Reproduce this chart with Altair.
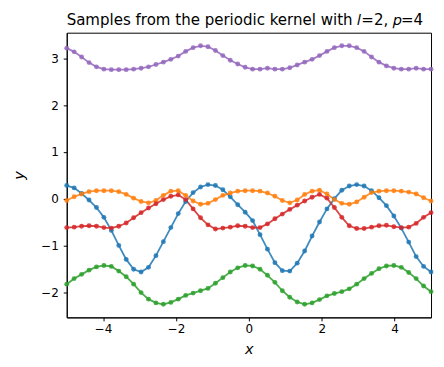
import altair as alt
import numpy as np
import pandas as pd

x_vals = np.linspace(-5, 5, 50)

blue = [0.28, 0.23, 0.11, -0.03, -0.19, -0.40, -0.68, -1.00, -1.30, -1.51,
        -1.57, -1.47, -1.22, -0.92, -0.62, -0.32, -0.06, 0.13, 0.25, 0.30,
        0.28, 0.19, 0.04, -0.13, -0.29, -0.47, -0.77, -1.08, -1.37, -1.54,
        -1.55, -1.38, -1.12, -0.80, -0.50, -0.22, 0.00, 0.18, 0.27, 0.30,
        0.27, 0.17, 0.02, -0.15, -0.37, -0.63, -0.93, -1.24, -1.45, -1.57]

orange = [-0.04, 0.04, 0.10, 0.15, 0.17, 0.17, 0.17, 0.15, 0.09, 0.01,
          -0.06, -0.09, -0.04, 0.07, 0.16, 0.17, 0.07, -0.05, -0.12, -0.10,
          -0.02, 0.07, 0.12, 0.16, 0.17, 0.17, 0.16, 0.12, 0.05, -0.04,
          -0.09, -0.03, 0.09, 0.16, 0.18, 0.10, -0.02, -0.10, -0.12, -0.07,
          0.03, 0.13, 0.16, 0.17, 0.17, 0.16, 0.14, 0.10, 0.02, -0.05]

green = [-1.83, -1.71, -1.62, -1.53, -1.46, -1.43, -1.45, -1.55, -1.67, -1.83,
         -2.01, -2.15, -2.23, -2.26, -2.22, -2.15, -2.07, -2.02, -1.97, -1.92,
         -1.81, -1.69, -1.57, -1.48, -1.43, -1.44, -1.51, -1.64, -1.79, -1.97,
         -2.11, -2.21, -2.26, -2.23, -2.16, -2.08, -2.03, -1.99, -1.93, -1.83,
         -1.71, -1.60, -1.50, -1.44, -1.43, -1.47, -1.58, -1.71, -1.87, -1.99]

red = [-0.62, -0.61, -0.59, -0.58, -0.59, -0.62, -0.63, -0.59, -0.52, -0.41,
       -0.30, -0.20, -0.11, -0.02, 0.05, 0.08, -0.02, -0.22, -0.41, -0.56,
       -0.65, -0.63, -0.61, -0.58, -0.59, -0.62, -0.62, -0.54, -0.43, -0.33,
       -0.23, -0.14, -0.05, 0.03, 0.09, 0.01, -0.19, -0.40, -0.58, -0.64,
       -0.64, -0.61, -0.58, -0.57, -0.60, -0.62, -0.61, -0.53, -0.40, -0.30]

purple = [3.22, 3.14, 3.03, 2.91, 2.82, 2.77, 2.76, 2.76, 2.76, 2.77,
          2.79, 2.82, 2.87, 2.92, 2.98, 3.05, 3.15, 3.23, 3.27, 3.25,
          3.17, 3.06, 2.96, 2.88, 2.81, 2.77, 2.77, 2.79, 2.77, 2.77,
          2.80, 2.86, 2.92, 2.98, 3.06, 3.15, 3.23, 3.27, 3.27, 3.23,
          3.15, 3.03, 2.92, 2.84, 2.79, 2.77, 2.77, 2.79, 2.77, 2.77]

series_names = ["s0", "s1", "s2", "s3", "s4"]
series_colors = ["#1f77b4", "#ff7f0e", "#2ca02c", "#d62728", "#9467bd"]
series_values = [blue, orange, green, red, purple]

x_ticks = [-4, -2, 0, 2, 4]
y_ticks = [-2, -1, 0, 1, 2, 3]

rows = []
for k, (name, vals) in enumerate(zip(series_names, series_values)):
    for xv, yv in zip(x_vals, vals):
        rows.append({"series": name, "order": k, "x": float(xv), "y": yv})
df = pd.DataFrame(rows)

minus = "replace(datum.label, '-', '\u2212')"

base = alt.Chart(df).encode(
    x=alt.X("x:Q",
            scale=alt.Scale(domain=[-5, 5], nice=False, zero=False),
            axis=alt.Axis(values=x_ticks, title="x", labelExpr=minus,
                          titleFontStyle="italic", titleFontWeight="normal",
                          titleFontSize=14.5, titlePadding=8, labelPadding=3)),
    y=alt.Y("y:Q",
            scale=alt.Scale(domain=[-2.54, 3.55], nice=False, zero=False),
            axis=alt.Axis(values=y_ticks, title="y", labelExpr=minus,
                          titleFontStyle="italic", titleFontWeight="normal",
                          titleFontSize=14.5, titlePadding=14, labelPadding=5)),
    color=alt.Color("series:N",
                    scale=alt.Scale(domain=series_names, range=series_colors),
                    legend=None),
)

lines = base.mark_line(strokeWidth=1.8, opacity=0.85)
points = base.mark_circle(size=24, opacity=0.85)

chart = alt.layer(lines, points).properties(
    width=366,
    height=286,
    title=alt.TitleParams(
        text="Samples from the periodic kernel with \U0001D459=2, \U0001D45D=4",
        font="DejaVu Sans", fontSize=15.1, fontWeight="normal",
        color="#000000", anchor="middle", offset=5, dx=-4),
    autosize=alt.AutoSizeParams(type="none"),
    padding={"left": 59, "top": 24, "right": 5, "bottom": 40},
).configure_view(
    stroke="#000000", strokeWidth=1
).configure_axis(
    grid=False,
    domainColor="#000000",
    tickColor="#000000",
    tickSize=3.5,
    labelFont="DejaVu Sans",
    labelFontSize=12,
    labelColor="#000000",
    titleFont="DejaVu Sans",
    titleColor="#000000",
)

chart.save("out.html", embed_options={"renderer": "svg", "actions": False})
